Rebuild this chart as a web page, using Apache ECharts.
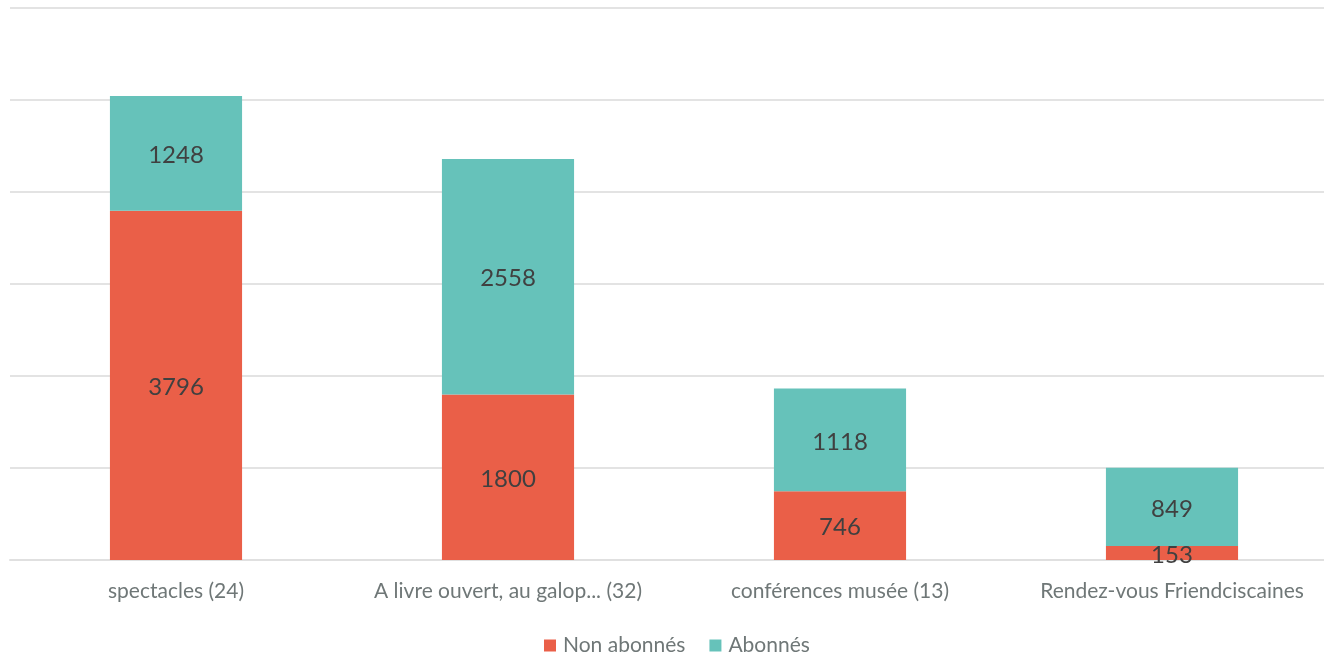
<!DOCTYPE html>
<html><head><meta charset="utf-8">
<script src="https://cdn.jsdelivr.net/npm/echarts@6/dist/echarts.min.js"></script>
<style>html,body{margin:0;padding:0;background:#fff}#c{width:1324px;height:655px}</style>
</head><body><div id="c"></div>
<script>
const categories = ['spectacles (24)', 'A livre ouvert, au galop... (32)', 'conférences musée (13)', 'Rendez-vous Friendciscaines'];
const nonAbonnes = [3796, 1800, 746, 153];
const abonnes = [1248, 2558, 1118, 849];
const chart = echarts.init(document.getElementById('c'));
const lbl = {show:true, position:'inside', color:'#404040', fontSize:24, fontFamily:'Lato', offset:[0,2]};
chart.setOption({
  animation:false,
  grid:{left:10, width:1328, top:8, height:552, containLabel:false, outerBoundsMode:'none'},
  legend:{top:630, left:539, itemWidth:12, itemHeight:12, itemGap:24, icon:'rect',
    textStyle:{fontFamily:'Lato', fontSize:21, color:'#6f7777', padding:[0,0,0,2]},
    data:['Non abonnés','Abonnés']},
  xAxis:{type:'category', data:categories,
    axisLine:{lineStyle:{color:'#e0e0e0', width:2}}, axisTick:{show:false},
    axisLabel:{fontFamily:'Lato', fontSize:21, color:'#6f7777', margin:21, interval:0}},
  yAxis:{type:'value', min:0, max:6000, interval:1000, axisLabel:{show:false},
    axisLine:{show:false}, axisTick:{show:false},
    splitLine:{lineStyle:{color:'#e3e3e3', width:2}}},
  series:[
    {name:'Non abonnés', type:'bar', stack:'s', data:nonAbonnes, barWidth:'39.8%', itemStyle:{color:'#EA5F48'}, label:lbl},
    {name:'Abonnés', type:'bar', stack:'s', data:abonnes, barWidth:'39.8%', itemStyle:{color:'#66C2BA'}, label:lbl}
  ]
});
</script></body></html>
